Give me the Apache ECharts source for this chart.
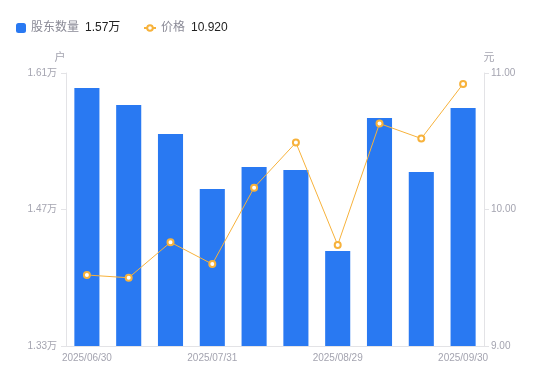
<!DOCTYPE html>
<html><head><meta charset="utf-8">
<script src="https://cdn.jsdelivr.net/npm/echarts@6/dist/echarts.min.js"></script>
<style>html,body{margin:0;padding:0;background:#fff}#c{width:550px;height:381px}</style>
</head><body><div id="c"></div>
<script>
const categories = ['2025/06/30','2025/07/10','2025/07/18','2025/07/31','2025/08/08','2025/08/20','2025/08/29','2025/09/10','2025/09/19','2025/09/30'];
const holders = [15946, 15772, 15474, 14910, 15136, 15105, 14274, 15638, 15085, 15741];
const prices = [9.52, 9.50, 9.76, 9.60, 10.16, 10.49, 9.74, 10.63, 10.52, 10.92];
const leftTicks = {min: 13300, max: 16100, interval: 1400};
const rightTicks = {min: 9, max: 11, interval: 1};

const chart = echarts.init(document.getElementById('c'), null, {renderer: 'canvas'});
const font = '"Liberation Sans", "Noto Sans CJK SC", sans-serif';
const axisGray = '#e3e3e6';
const labelGray = '#a4a4b0';
const legendText = {fontFamily: font, fontSize: 12, color: '#8a8a96',
  rich: {v: {color: '#222', fontSize: 12, padding: [0,0,0,6], fontFamily: font}}};
chart.setOption({
  animation: false,
  textStyle: {fontFamily: font},
  legend: [{
    left: 11, top: 17, itemWidth: 10, itemHeight: 10,
    textStyle: legendText,
    data: [{name: '股东数量', icon: 'roundRect'}],
    formatter: n => n + '{v|' + (holders[holders.length-1]/10000).toFixed(2) + '万}'
  }, {
    left: 138, top: 17, itemWidth: 12, itemHeight: 7,
    textStyle: legendText,
    data: [{name: '价格'}],
    formatter: n => n + '{v|' + prices[prices.length-1].toFixed(3) + '}'
  }],
  grid: {left: 66, right: 66, top: 73, bottom: 35},
  xAxis: {
    type: 'category', data: categories,
    axisLine: {lineStyle: {color: axisGray}},
    axisTick: {show: false},
    axisLabel: {interval: 2, color: labelGray, fontSize: 10, margin: 7, fontFamily: font}
  },
  yAxis: [{
    type: 'value', name: '户', min: leftTicks.min, max: leftTicks.max, interval: leftTicks.interval,
    nameTextStyle: {color: labelGray, fontSize: 11, padding: [0, 12, 0, 0]}, nameGap: 10,
    axisLine: {show: true, lineStyle: {color: axisGray}},
    axisTick: {show: true, length: 5, lineStyle: {color: axisGray}},
    splitLine: {show: false},
    axisLabel: {color: labelGray, fontSize: 10, margin: 9, fontFamily: font,
      formatter: v => (v/10000).toFixed(2) + '万'}
  }, {
    type: 'value', name: '元', min: rightTicks.min, max: rightTicks.max, interval: rightTicks.interval,
    nameTextStyle: {color: labelGray, fontSize: 11, padding: [0, 0, 0, 10]}, nameGap: 10,
    axisLine: {show: true, lineStyle: {color: axisGray}},
    axisTick: {show: true, length: 5, lineStyle: {color: axisGray}},
    splitLine: {show: false},
    axisLabel: {color: labelGray, fontSize: 10, margin: 7, fontFamily: font,
      formatter: v => v.toFixed(2)}
  }],
  series: [{
    name: '股东数量', type: 'bar', data: holders, barWidth: '60%', yAxisIndex: 0,
    itemStyle: {color: '#2979f2'}
  }, {
    name: '价格', type: 'line', data: prices, yAxisIndex: 1,
    symbol: 'circle', symbolSize: 6,
    lineStyle: {color: '#f7b23b', width: 1},
    itemStyle: {color: '#fff', borderColor: '#f7b23b', borderWidth: 2}
  }]
});
</script></body></html>
